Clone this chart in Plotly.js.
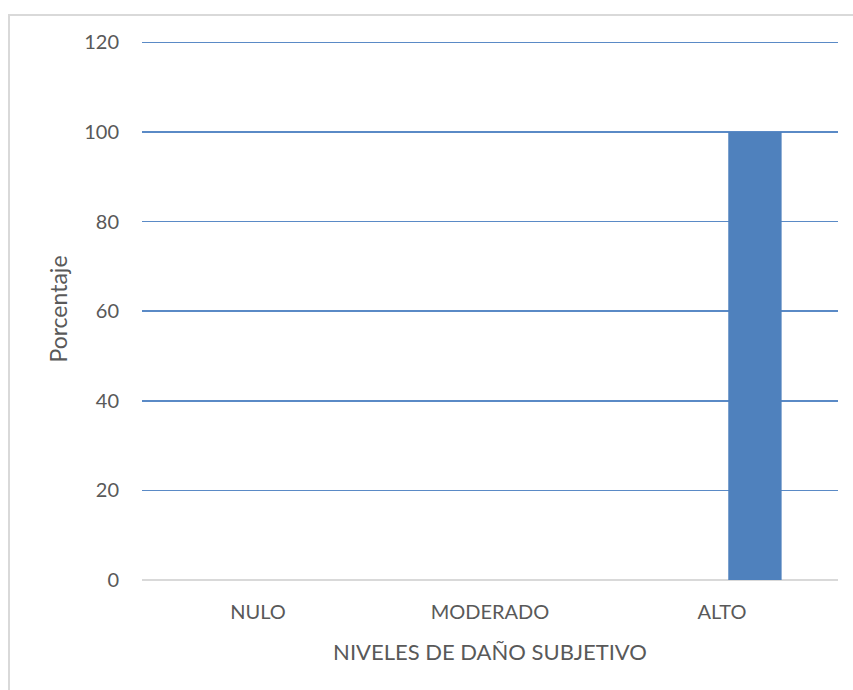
<!DOCTYPE html>
<html>
<head>
<meta charset="utf-8">
<script src="https://cdn.plot.ly/plotly-3.0.1.min.js"></script>
<style>
  html, body { margin: 0; padding: 0; background: #ffffff; }
  #wrap { position: relative; width: 853px; height: 690px; overflow: hidden; }
  #chart { position: absolute; left: 0; top: 0; width: 853px; height: 690px; }
  #frame { position: absolute; left: 8px; top: 14px; width: 860px; height: 700px;
           border: 2px solid #d9d9d9; box-sizing: border-box; pointer-events: none; }
</style>
</head>
<body>
<div id="wrap">
  <div id="chart"></div>
  <div id="frame"></div>
</div>
<script>
const categories = ["NULO", "MODERADO", "ALTO"];
const percentages = [0, 0, 100];
const yTicks = [0, 20, 40, 60, 80, 100, 120];

const fontFamily = "Lato, 'Open Sans', sans-serif";
const textColor = "#595959";

const trace = {
  type: "bar",
  x: categories,
  y: percentages,
  width: 0.23,
  offset: 0.027,
  marker: { color: "#4F81BD", line: { width: 0 } },
  hoverinfo: "x+y"
};

const layout = {
  width: 853,
  height: 690,
  margin: { l: 142, r: 15, t: 38, b: 110 },
  paper_bgcolor: "#ffffff",
  plot_bgcolor: "#ffffff",
  showlegend: false,
  font: { family: fontFamily, color: textColor, size: 20 },
  xaxis: {
    type: "category",
    showgrid: false,
    showline: false,
    zeroline: false,
    ticks: "",
    tickfont: { family: fontFamily, size: 20, color: textColor },
    ticklabelstandoff: 18,
    title: { text: "NIVELES DE DAÑO SUBJETIVO", font: { family: fontFamily, size: 22, color: textColor }, standoff: 22 }
  },
  yaxis: {
    range: [0, 121],
    tickvals: yTicks,
    ticktext: yTicks.map(String),
    showgrid: true,
    gridcolor: "#5a8ac6",
    gridwidth: 1.5,
    zeroline: true,
    zerolinecolor: "#d9d9d9",
    zerolinewidth: 2,
    showline: false,
    ticks: "",
    tickfont: { family: fontFamily, size: 20, color: textColor },
    ticklabelstandoff: 22,
    title: { text: "Porcentaje", font: { family: fontFamily, size: 23, color: textColor }, standoff: 10 }
  },
  bargap: 0.3
};

Plotly.newPlot("chart", [trace], layout, { displayModeBar: false, staticPlot: true });
</script>
</body>
</html>
